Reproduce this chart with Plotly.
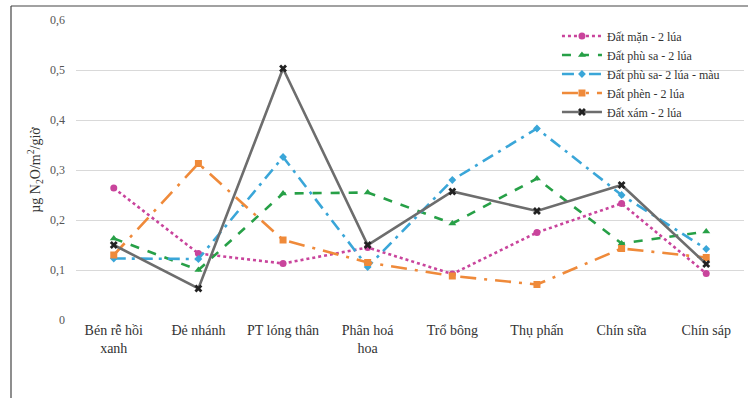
import plotly.graph_objects as go

# Growth stages of the rice crop
stages = ["Bén rễ hồi<br>xanh", "Đẻ nhánh", "PT lóng thân", "Phân hoá<br>hoa",
          "Trổ bông", "Thụ phấn", "Chín sữa", "Chín sáp"]

# N2O emission rate (µg N2O/m²/giờ) per soil type
dat_man = [0.264, 0.133, 0.113, 0.145, 0.092, 0.175, 0.233, 0.093]
dat_phu_sa = [0.163, 0.100, 0.253, 0.255, 0.193, 0.283, 0.153, 0.177]
dat_phu_sa_mau = [0.123, 0.122, 0.326, 0.106, 0.280, 0.383, 0.250, 0.142]
dat_phen = [0.130, 0.313, 0.160, 0.115, 0.088, 0.071, 0.143, 0.125]
dat_xam = [0.150, 0.063, 0.503, 0.150, 0.257, 0.218, 0.270, 0.112]

series = [
    ("Đất mặn - 2 lúa", dat_man, "#c9449c", "dot", "circle", 7),
    ("Đất phù sa - 2 lúa", dat_phu_sa, "#27a047", "dash", "triangle-up", 7),
    ("Đất phù sa- 2 lúa - màu", dat_phu_sa_mau, "#3aa6d8", "12px,6px,3px,6px", "diamond", 6),
    ("Đất phèn - 2 lúa", dat_phen, "#ef8a3a", "16px,8px,3px,8px", "square", 7),
    ("Đất xám - 2 lúa", dat_xam, "#6d6d6d", "solid", "x", 7),
]

fig = go.Figure()
for name, vals, color, dash, symbol, size in series:
    fig.add_trace(go.Scatter(
        x=stages, y=vals, name=name, mode="lines+markers",
        line=dict(color=color, width=2.6, dash=dash),
        marker=dict(color=color if symbol != "x" else "#222222", symbol=symbol, size=size,
                    line=dict(width=0)),
    ))

serif = "Liberation Serif"

L, R, T, B = 76, 4, 20, 78
W, H = 748, 398
pw, ph = W - L - R, H - T - B

fig.update_layout(
    width=W, height=H,
    margin=dict(l=L, r=R, t=T, b=B),
    paper_bgcolor="white", plot_bgcolor="white",
    font=dict(family=serif, color="#333333"),
    showlegend=True,
    legend=dict(
        x=0.72, y=0.995, xanchor="left", yanchor="top",
        font=dict(family=serif, size=12, color="#333333"),
        bgcolor="rgba(255,255,255,0)", itemwidth=40, tracegroupgap=0,
    ),
    xaxis=dict(
        type="category", showgrid=False, zeroline=False, showline=False,
        tickfont=dict(family=serif, size=14, color="#333333"),
        ticks="",
    ),
    yaxis=dict(
        range=[0, 0.6],
        tickvals=[0, 0.1, 0.2, 0.3, 0.4, 0.5, 0.6],
        ticktext=["0", "0,1", "0,2", "0,3", "0,4", "0,5", "0,6"],
        showgrid=True, gridcolor="#d9d9d9", gridwidth=1,
        zeroline=False, showline=False,
        tickfont=dict(family=serif, size=12, color="#555555"),
        ticks="", ticklabelstandoff=10,
        title=dict(text="µg N<sub>2</sub>O/m<sup>2</sup>/giờ",
                   font=dict(family=serif, size=14, color="#333333"), standoff=6),
    ),
)

# Outer frame lines
fx0 = (11 - L) / pw
fig.add_shape(type="line", xref="paper", yref="paper",
              x0=fx0, x1=fx0, y0=(H - B - H) / ph, y1=(H - B - 6) / ph,
              line=dict(color="#444444", width=1.2))
fig.add_shape(type="line", xref="paper", yref="paper",
              x0=fx0, x1=(W - L) / pw, y0=(H - B - 6) / ph, y1=(H - B - 6) / ph,
              line=dict(color="#444444", width=1.2))

fig.write_html("out.html")
